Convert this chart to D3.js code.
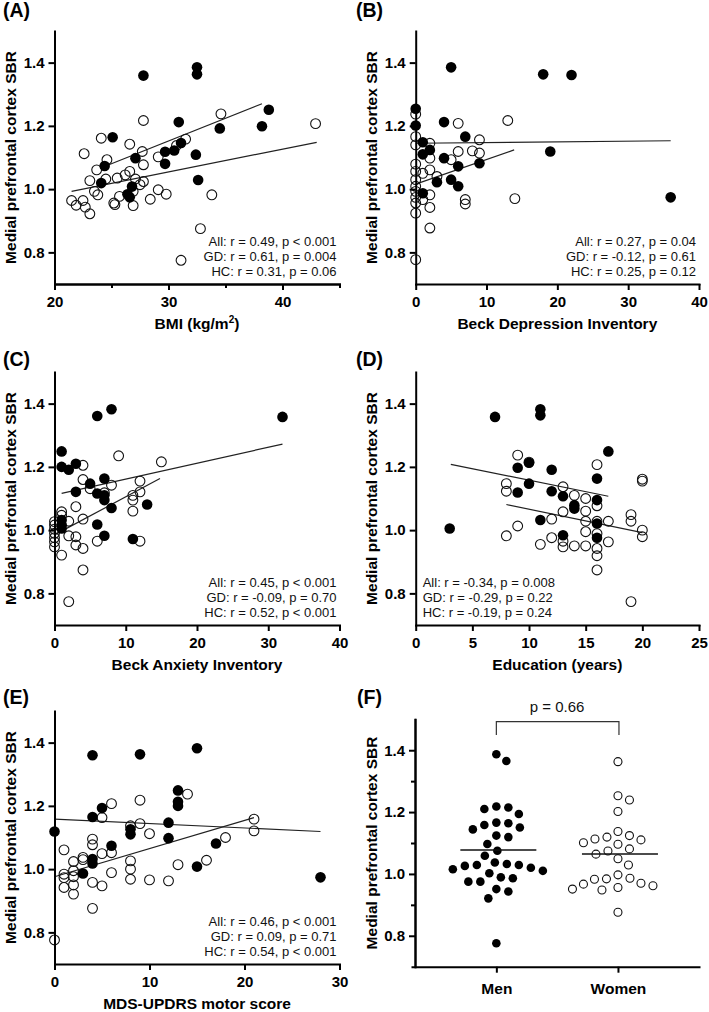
<!DOCTYPE html>
<html>
<head>
<meta charset="utf-8">
<script src="https://cdn.jsdelivr.net/npm/d3@7"></script>
<style>
  body { margin: 0; background: #fff; }
  svg { display: block; font-family: "Liberation Sans", Arial, sans-serif; }
</style>
</head>
<body>
<svg id="fig" width="709" height="1012"></svg>
<script>
// ---- data: [x, SBR] ----
const bmiGD = [[27.8,1.359],[32.5,1.385],[32.5,1.363],[30.9,1.212],[25.1,1.164],[38.8,1.251],[34.5,1.192],[38.2,1.199],[31.1,1.146],[29.7,1.118],[30.5,1.122],[29.7,1.080],[32.4,1.109],[27.1,1.098],[24.4,1.073],[24.1,1.019],[32.6,1.029],[26.8,1.008],[26.4,0.984],[26.6,0.974]];
const bmiHC = [[21.5,0.964],[21.9,0.949],[22.5,0.964],[22.6,1.112],[22.7,0.943],[23.1,0.922],[23.1,1.027],[23.7,1.061],[23.5,0.993],[23.8,0.982],[24.1,1.161],[24.6,1.093],[24.5,1.032],[25.5,1.035],[25.2,0.956],[25.3,0.951],[25.7,0.977],[26.2,1.045],[26.6,1.142],[26.6,1.056],[26.9,0.948],[26.9,0.993],[27.1,1.032],[27.5,1.014],[27.7,1.119],[27.8,1.024],[27.8,1.217],[27.8,1.077],[28.4,0.968],[29.1,0.998],[29.1,1.102],[29.8,0.984],[30.7,1.138],[31.5,1.158],[31.1,0.775],[32.8,0.875],[33.8,0.982],[34.6,1.238],[42.9,1.207]];
const bmiFit = [[24.0,1.066,38.2,1.270],[21.5,0.993,43.0,1.148]];

const bdiGD = [[5,1.385],[18,1.363],[22,1.361],[0,1.254],[0,1.201],[4,1.212],[1,1.148],[7,1.166],[1,1.110],[2,1.124],[4,1.098],[6,1.072],[9,1.082],[19,1.119],[3,1.022],[5,1.030],[6,1.009],[1,0.987],[36,0.974]];
const bdiHC = [[0,1.237],[0,1.166],[0,1.140],[0,1.079],[0,1.056],[0,1.030],[0,1.009],[0,0.993],[0,0.974],[0,0.956],[0,0.924],[0,0.777],[6,1.208],[9,1.156],[13,1.217],[2,1.145],[6,1.119],[8,1.121],[9,1.114],[5,1.093],[2,1.098],[1,1.050],[2,1.061],[3,1.040],[2,0.982],[2,0.942],[1,0.967],[7,0.967],[7,0.953],[2,0.877],[14,0.970]];
const bdiFit = [[0,1.145,36,1.153],[0,1.016,13.9,1.124]];

const baiGD = [[6,1.361],[8,1.382],[32,1.358],[1,1.249],[1,1.200],[2,1.191],[3,1.210],[3,1.121],[5,1.147],[7,1.163],[6,1.116],[7,1.110],[7,1.095],[8,1.070],[13,1.081],[1,1.032],[1,1.016],[1,1.005],[6,1.018],[7,0.982],[11,0.972]];
const baiHC = [[9,1.235],[15,1.216],[4,1.205],[4,1.160],[5,1.131],[8,1.142],[7,1.118],[12,1.155],[12,1.121],[11,1.110],[11,1.095],[11,1.060],[3,1.074],[1,1.058],[1,1.047],[2,1.028],[4,1.035],[0,1.027],[0,1.016],[0,1.003],[0,0.990],[0,0.976],[0,0.963],[0,0.947],[2,0.982],[3,0.979],[3,0.953],[4,0.942],[6,0.965],[12,0.965],[1,0.921],[4,0.874],[2,0.774]];
const baiFit = [[1,1.116,32,1.272],[0,0.985,14.8,1.163]];

const eduGD = [[3,1.005],[7,1.358],[11,1.382],[11,1.363],[17,1.249],[9,1.197],[10,1.213],[12,1.191],[10,1.147],[9,1.119],[12,1.123],[13,1.107],[14,1.079],[14,1.068],[16,1.163],[16,1.095],[16,1.021],[16,0.976],[11,1.032],[13,0.984]];
const eduHC = [[9,1.237],[10,1.215],[8,1.147],[8,1.123],[8,0.982],[9,1.013],[12,1.035],[12,0.976],[11,0.955],[13,1.137],[13,1.058],[13,0.965],[13,0.947],[14,1.110],[14,0.950],[15,1.100],[15,1.060],[15,1.028],[15,0.995],[15,0.950],[16,1.207],[16,1.077],[16,1.028],[16,0.989],[16,0.942],[16,0.919],[16,0.874],[17,1.028],[17,0.963],[19,1.049],[19,1.028],[19,0.774],[20,1.161],[20,1.155],[20,1.000],[20,0.979]];
const eduFit = [[3.1,1.208,17.0,1.107],[8.0,1.081,20.0,0.992]];

const updrsGD = [[0,1.119],[4,1.360],[9,1.363],[15,1.382],[13,1.249],[13,1.213],[13,1.200],[5,1.193],[4,1.165],[12,1.147],[8,1.126],[8,1.110],[12,1.098],[6,1.074],[4,1.032],[4,1.018],[3,0.986],[17,1.081],[15,1.008],[28,0.974]];
const updrsHC = [[14,1.237],[6,1.207],[9,1.218],[5,1.163],[8,1.137],[9,1.144],[10,1.112],[4,1.095],[4,1.077],[6,1.052],[5,1.049],[1,1.061],[2,1.024],[3,1.037],[3,1.030],[8,1.026],[8,1.000],[8,0.968],[6,0.989],[1,0.984],[1,0.973],[2,0.995],[2,0.976],[1,0.942],[2,0.950],[2,0.921],[4,0.958],[5,0.947],[4,0.876],[10,0.966],[12,0.963],[13,1.014],[16,1.028],[0,0.776],[18,1.100],[21,1.158],[21,1.121]];
const updrsFit = [[0,1.158,28,1.119],[0,0.976,21,1.163]];

const sexGroups = ['Men', 'Women'];
const menSBR = [1.387,1.365,1.215,1.210,1.194,1.218,1.144,1.166,1.158,1.164,1.150,1.119,1.124,1.097,1.059,1.075,1.032,1.037,1.029,1.020,1.029,1.026,1.010,1.002,1.015,0.975,0.989,0.975,0.986,0.951,0.943,0.921,0.776];
const womenSBR = [1.363,1.239,1.253,1.202,1.137,1.124,1.110,1.096,1.101,1.113,1.119,1.081,1.064,1.074,1.049,1.029,0.997,0.970,0.983,0.956,0.967,0.986,0.948,0.962,0.984,0.951,0.876];
const sexP = 'p = 0.66';

const yTicks = [0.8, 1.0, 1.2, 1.4];
const yMinor = [0.9, 1.1, 1.3];
const yTitle = 'Medial prefrontal cortex SBR';

const statsA = ['All: r = 0.49, p < 0.001', 'GD: r = 0.61, p = 0.004', 'HC: r = 0.31, p = 0.06'];
const statsB = ['All: r = 0.27, p = 0.04', 'GD: r = -0.12, p = 0.61', 'HC: r = 0.25, p = 0.12'];
const statsC = ['All: r = 0.45, p < 0.001', 'GD: r = -0.09, p = 0.70', 'HC: r = 0.52, p < 0.001'];
const statsD = ['All: r = -0.34, p = 0.008', 'GD: r = -0.29, p = 0.22', 'HC: r = -0.19, p = 0.24'];
const statsE = ['All: r = 0.46, p < 0.001', 'GD: r = 0.09, p = 0.71', 'HC: r = 0.54, p < 0.001'];

// ---- layout ----
const svg = d3.select('#fig');
const cols = [{ axisX: 54.5, right: 339.5, letterX: 3 }, { axisX: 415.7, right: 699, letterX: 356 }];
const rows = [{ axisY: 284, letterY: 17 }, { axisY: 625, letterY: 365.5 }, { axisY: 964, letterY: 704 }];
const plotH = 253;

const panels = [
  { letter: '(A)', col: 0, row: 0, gd: bmiGD, hc: bmiHC, fit: bmiFit, xDomain: [20, 45], xTicks: [20, 30, 40], xMinor: [25, 35, 45], title: ['BMI (kg/m', '2', ')'], stats: statsA, statsLeft: false },
  { letter: '(B)', col: 1, row: 0, gd: bdiGD, hc: bdiHC, fit: bdiFit, xDomain: [0, 40], xTicks: [0, 10, 20, 30, 40], title: ['Beck Depression Inventory'], stats: statsB, statsLeft: false },
  { letter: '(C)', col: 0, row: 1, gd: baiGD, hc: baiHC, fit: baiFit, xDomain: [0, 40], xTicks: [0, 10, 20, 30, 40], title: ['Beck Anxiety Inventory'], stats: statsC, statsLeft: false },
  { letter: '(D)', col: 1, row: 1, gd: eduGD, hc: eduHC, fit: eduFit, xDomain: [0, 25], xTicks: [0, 5, 10, 15, 20, 25], title: ['Education (years)'], stats: statsD, statsLeft: true },
  { letter: '(E)', col: 0, row: 2, gd: updrsGD, hc: updrsHC, fit: updrsFit, xDomain: [0, 30], xTicks: [0, 10, 20, 30], title: ['MDS-UPDRS motor score'], stats: statsE, statsLeft: false }
];

function styleAxis(g, size) {
  g.attr('font-family', null).attr('font-size', null);
  g.select('.domain').attr('stroke', '#000').attr('stroke-width', 2).attr('stroke-linecap', 'square');
  g.selectAll('.tick line').attr('stroke', '#000').attr('stroke-width', 2);
  g.selectAll('.tick text').attr('fill', '#000')
    .style('font-size', size + 'px').style('font-weight', 'bold');
}

function yLabel(x, yMid) {
  svg.append('text')
    .attr('transform', `translate(${x},${yMid}) rotate(-90)`)
    .attr('text-anchor', 'middle')
    .style('font-size', '15.5px').style('font-weight', 'bold')
    .text(yTitle);
}

function letter(p, x, y) {
  svg.append('text').attr('x', x).attr('y', y)
    .style('font-size', '19.5px').style('font-weight', 'bold')
    .text(p);
}

function drawScatter(p) {
  const c = cols[p.col], r = rows[p.row];
  const x = d3.scaleLinear().domain(p.xDomain).range([c.axisX, c.right]);
  const y = d3.scaleLinear().domain([0.7, 1.5]).range([r.axisY, r.axisY - plotH]);
  const g = svg.append('g');

  g.selectAll('line.fit').data(p.fit).join('line')
    .attr('class', 'fit')
    .attr('x1', d => x(d[0])).attr('y1', d => y(d[1]))
    .attr('x2', d => x(d[2])).attr('y2', d => y(d[3]))
    .attr('stroke', '#222').attr('stroke-width', 1.2);

  g.selectAll('circle.hc').data(p.hc).join('circle')
    .attr('class', 'hc')
    .attr('cx', d => x(d[0])).attr('cy', d => y(d[1])).attr('r', 4.9)
    .attr('fill', 'none').attr('stroke', '#111').attr('stroke-width', 1.1);

  g.selectAll('circle.gd').data(p.gd).join('circle')
    .attr('class', 'gd')
    .attr('cx', d => x(d[0])).attr('cy', d => y(d[1])).attr('r', 5.3)
    .attr('fill', '#000');

  const xa = g.append('g').attr('transform', `translate(0,${r.axisY})`)
    .call(d3.axisBottom(x).tickValues(p.xTicks).tickFormat(d3.format('d'))
      .tickSize(6).tickPadding(6).tickSizeOuter(0));
  styleAxis(xa, 15);
  if (p.xMinor) {
    const xm = g.append('g').attr('transform', `translate(0,${r.axisY})`)
      .call(d3.axisBottom(x).tickValues(p.xMinor).tickFormat('').tickSize(4).tickSizeOuter(0));
    styleAxis(xm, 15);
  }
  const ya = g.append('g').attr('transform', `translate(${c.axisX},0)`)
    .call(d3.axisLeft(y).tickValues(yTicks).tickFormat(d3.format('.1f'))
      .tickSize(6).tickPadding(4).tickSizeOuter(0));
  styleAxis(ya, 15);

  // x title
  const t = svg.append('text')
    .attr('x', (c.axisX + c.right) / 2).attr('y', r.axisY + 45)
    .attr('text-anchor', 'middle')
    .style('font-size', '15.5px').style('font-weight', 'bold');
  t.append('tspan').text(p.title[0]);
  if (p.title.length > 1) {
    t.append('tspan').attr('dy', -6).style('font-size', '10px').text(p.title[1]);
    t.append('tspan').attr('dy', 6).text(p.title[2]);
  }

  // stats
  svg.append('g').selectAll('text').data(p.stats).join('text')
    .attr('x', p.statsLeft ? c.axisX + 7 : c.right - 3)
    .attr('y', (d, i) => r.axisY - 8.5 - (2 - i) * 15)
    .attr('text-anchor', p.statsLeft ? 'start' : 'end')
    .style('font-size', '13px').attr('fill', '#111')
    .text(d => d);

  yLabel(c.axisX - 38.5, r.axisY - plotH / 2);
  letter(p.letter, c.letterX, r.letterY);
}

panels.forEach(drawScatter);

// ---- panel F: dot plot by sex ----
(function () {
  const axisX = 415, axisY = 966.7, topY = 719.3;
  const fx = d3.scalePoint().domain(sexGroups).range([412, 699]).padding(0.68).align(0.51);
  const fy = d3.scaleLinear().domain([0.7, 1.5]).range([axisY, topY]);
  const g = svg.append('g');

  // simple beeswarm: place sorted points at the nearest free offset
  function swarm(values, minDist) {
    const pts = values.map(v => ({ v, y: fy(v) })).sort((a, b) => a.y - b.y);
    const placed = [];
    pts.forEach(p => {
      let dx = null;
      for (let k = 0; k < 400 && dx === null; k++) {
        const cands = k === 0 ? [0] : [k * 0.5, -k * 0.5];
        for (const c of cands) {
          if (placed.every(q => Math.hypot(q.dx - c, q.y - p.y) >= minDist)) { dx = c; break; }
        }
      }
      p.dx = dx;
      placed.push(p);
    });
    return placed;
  }

  const groups = [
    { name: 'Men', vals: menSBR, filled: true },
    { name: 'Women', vals: womenSBR, filled: false }
  ];

  groups.forEach(grp => {
    const cx = fx(grp.name);
    const pts = swarm(grp.vals, 12);
    g.append('g').selectAll('circle').data(pts).join('circle')
      .attr('cx', d => cx + d.dx).attr('cy', d => d.y).attr('r', grp.filled ? 4.3 : 4)
      .attr('fill', grp.filled ? '#000' : 'none')
      .attr('stroke', grp.filled ? 'none' : '#111').attr('stroke-width', 1.1);
    const m = d3.mean(grp.vals);
    g.append('line')
      .attr('x1', cx - 36).attr('x2', cx + 40)
      .attr('y1', fy(m)).attr('y2', fy(m))
      .attr('stroke', '#111').attr('stroke-width', 1.6);
  });

  const xa = g.append('g').attr('transform', `translate(0,${axisY})`)
    .call(d3.axisBottom(fx).tickSize(6).tickPadding(10).tickSizeOuter(0));
  styleAxis(xa, 15.5);
  const ya = g.append('g').attr('transform', `translate(${axisX},0)`)
    .call(d3.axisLeft(fy).tickValues(yTicks).tickFormat(d3.format('.1f'))
      .tickSize(6).tickPadding(4).tickSizeOuter(0));
  styleAxis(ya, 15);
  const ym = g.append('g').attr('transform', `translate(${axisX},0)`)
    .call(d3.axisLeft(fy).tickValues(yMinor).tickFormat('').tickSize(4).tickSizeOuter(0));
  styleAxis(ym, 15);

  // significance bracket
  const xM = fx('Men'), xW = fx('Women');
  g.append('path')
    .attr('d', `M${xM},735 V721.7 H${xW + 1} V735`)
    .attr('fill', 'none').attr('stroke', '#333').attr('stroke-width', 1.2);
  g.append('text').attr('x', (xM + xW) / 2).attr('y', 712)
    .attr('text-anchor', 'middle').style('font-size', '15px').attr('fill', '#111')
    .text(sexP);

  yLabel(axisX - 38.5, (axisY + topY) / 2);
  letter('(F)', 357, 704);
})();
</script>
</body>
</html>
